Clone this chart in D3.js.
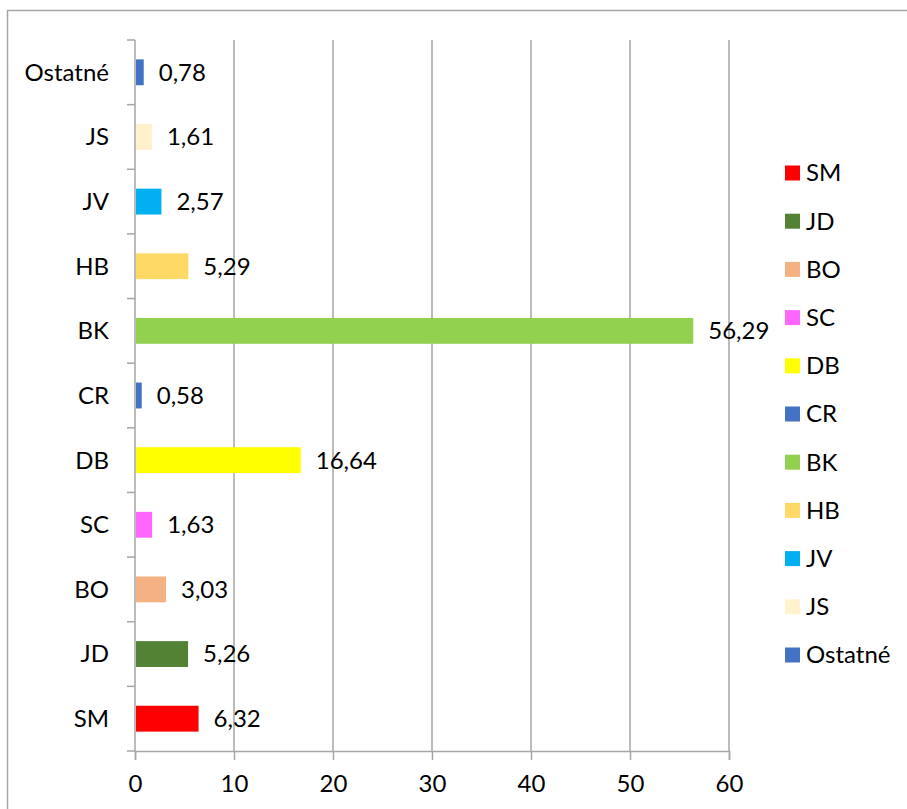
<!DOCTYPE html>
<html>
<head>
<meta charset="utf-8">
<script src="https://cdn.jsdelivr.net/npm/d3@7"></script>
<style>
  body { margin: 0; background: #fff; }
  text { font-family: Lato, "Open Sans", sans-serif; fill: #000; }
</style>
</head>
<body>
<div id="chart"></div>
<script>
// categories from bottom to top, as in the chart
const categories = ["SM", "JD", "BO", "SC", "DB", "CR", "BK", "HB", "JV", "JS", "Ostatné"];
const values = [6.32, 5.26, 3.03, 1.63, 16.64, 0.58, 56.29, 5.29, 2.57, 1.61, 0.78];
const colors = ["#ff0000", "#548235", "#f4b183", "#ff66ff", "#ffff00", "#4472c4",
                "#92d050", "#ffd966", "#00b0f0", "#fff2cc", "#4472c4"];
const xTicks = [0, 10, 20, 30, 40, 50, 60];

const data = categories.map((c, i) => ({name: c, value: values[i], color: colors[i]}));

const W = 907, H = 809;
const margin = {top: 40, left: 135, right: 178, bottom: 58};
const width = 729 - margin.left, height = 751 - margin.top;
const fs = "24px";

const svg = d3.select("#chart").append("svg")
  .attr("width", W).attr("height", H);

// outer frame
svg.append("rect")
  .attr("x", 7.5).attr("y", 10.5)
  .attr("width", 920).attr("height", 820)
  .attr("fill", "none").attr("stroke", "#a6a6a6").attr("stroke-width", 1.5);

const g = svg.append("g").attr("transform", `translate(${margin.left},${margin.top})`);

const x = d3.scaleLinear().domain([0, 60]).range([0, width]);
const y = d3.scaleBand()
  .domain(categories.slice().reverse())
  .range([0, height])
  .paddingInner(0.6).paddingOuter(0.3);

// gridlines
g.selectAll("line.grid")
  .data(xTicks.slice(1))
  .join("line")
  .attr("class", "grid")
  .attr("x1", d => x(d)).attr("x2", d => x(d))
  .attr("y1", 0).attr("y2", height)
  .attr("stroke", "#a6a6a6").attr("stroke-width", 1.5);

// x axis
const xAxis = g.append("g")
  .attr("transform", `translate(0,${height})`)
  .call(d3.axisBottom(x).tickValues(xTicks).tickSize(9).tickPadding(15));
xAxis.select(".domain").attr("stroke", "#a6a6a6").attr("stroke-width", 1.5);
xAxis.selectAll(".tick line").attr("stroke", "#a6a6a6").attr("stroke-width", 1.5);
xAxis.selectAll(".tick text").style("font-size", fs).attr("font-family", null);

// y axis: ticks at band boundaries
const step = height / categories.length;
const yTicks = d3.range(categories.length + 1).map(i => i * step);
g.append("line")
  .attr("x1", 0).attr("x2", 0).attr("y1", 0).attr("y2", height)
  .attr("stroke", "#a6a6a6").attr("stroke-width", 1.5);
g.selectAll("line.ytick")
  .data(yTicks)
  .join("line")
  .attr("class", "ytick")
  .attr("x1", -8).attr("x2", 0)
  .attr("y1", d => d).attr("y2", d => d)
  .attr("stroke", "#a6a6a6").attr("stroke-width", 1.5);

g.selectAll("text.ylab")
  .data(data)
  .join("text")
  .attr("class", "ylab")
  .attr("x", -26)
  .attr("y", d => y(d.name) + y.bandwidth() / 2)
  .attr("dy", "0.35em")
  .attr("text-anchor", "end")
  .style("font-size", fs)
  .text(d => d.name);

// bars
g.selectAll("rect.bar")
  .data(data)
  .join("rect")
  .attr("class", "bar")
  .attr("x", x(0) + 1)
  .attr("y", d => y(d.name))
  .attr("width", d => x(d.value) - x(0))
  .attr("height", y.bandwidth())
  .attr("fill", d => d.color);

// value labels
const fmt = v => d3.format(".2f")(v).replace(".", ",");
g.selectAll("text.val")
  .data(data)
  .join("text")
  .attr("class", "val")
  .attr("x", d => x(d.value) + 16)
  .attr("y", d => y(d.name) + y.bandwidth() / 2)
  .attr("dy", "0.35em")
  .style("font-size", fs)
  .text(d => fmt(d.value));

// legend
const legend = svg.append("g").attr("transform", "translate(785,173)");
const item = legend.selectAll("g")
  .data(data)
  .join("g")
  .attr("transform", (d, i) => `translate(0,${i * 48.2})`);
item.append("rect")
  .attr("x", 0).attr("y", -7.5)
  .attr("width", 15).attr("height", 15)
  .attr("fill", d => d.color);
item.append("text")
  .attr("x", 21).attr("y", 0)
  .attr("dy", "0.35em")
  .style("font-size", fs)
  .text(d => d.name);
</script>
</body>
</html>
